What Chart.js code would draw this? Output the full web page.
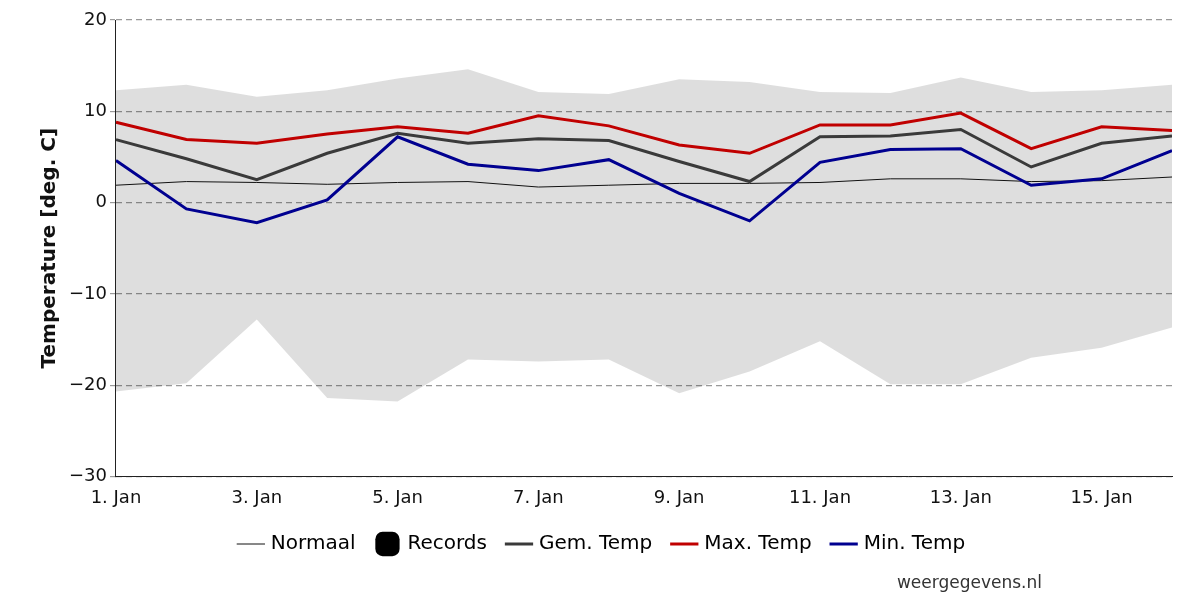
<!DOCTYPE html>
<html lang="nl">
<head>
  <meta charset="UTF-8" />
  <title>Temperatuur januari</title>
  <script src="https://cdn.jsdelivr.net/npm/chart.js"></script>
  <style>
    body { margin: 0; background: #fff; font-family: 'DejaVu Sans', sans-serif; }
    .wrap { position: relative; width: 1200px; height: 600px; }
    .credit { position: absolute; right: 158px; bottom: 8px; font-size: 17px; color: #333; }
  </style>
</head>
<body>
  <div class="wrap">
    <canvas id="chart" width="1200" height="600"></canvas>
    <div class="credit">weergegevens.nl</div>
  </div>
  <script>
    const days = [1, 2, 3, 4, 5, 6, 7, 8, 9, 10, 11, 12, 13, 14, 15, 16];
    const dayTicks = [1, 3, 5, 7, 9, 11, 13, 15];
    const recordHigh = [12.3, 12.9, 11.6, 12.3, 13.6, 14.6, 12.1, 11.9, 13.5, 13.2, 12.1, 12.0, 13.7, 12.1, 12.3, 12.9];
    const recordLow = [-20.7, -19.8, -12.8, -21.4, -21.8, -17.2, -17.4, -17.2, -20.9, -18.5, -15.2, -19.9, -19.9, -17.0, -15.9, -13.7];
    const normaal = [1.9, 2.3, 2.2, 2.0, 2.2, 2.3, 1.7, 1.9, 2.1, 2.1, 2.2, 2.6, 2.6, 2.3, 2.4, 2.8];
    const gemTemp = [6.9, 4.8, 2.5, 5.4, 7.6, 6.5, 7.0, 6.8, 4.5, 2.3, 7.2, 7.3, 8.0, 3.9, 6.5, 7.3];
    const maxTemp = [8.8, 6.9, 6.5, 7.5, 8.3, 7.6, 9.5, 8.4, 6.3, 5.4, 8.5, 8.5, 9.8, 5.9, 8.3, 7.9];
    const minTemp = [4.6, -0.7, -2.2, 0.3, 7.2, 4.2, 3.5, 4.7, 1.0, -2.0, 4.4, 5.8, 5.9, 1.9, 2.6, 5.7];

    const pts = arr => arr.map((v, i) => ({ x: days[i], y: v }));
    const line = (label, arr, color, width, order) => ({
      label, data: pts(arr), borderColor: color, backgroundColor: color,
      borderWidth: width, pointRadius: 0, tension: 0, fill: false, order
    });

    Chart.defaults.font.family = "'DejaVu Sans', sans-serif";

    new Chart(document.getElementById('chart'), {
      type: 'line',
      data: {
        datasets: [
          line('Normaal', normaal, '#111', 1, 4),
          { label: 'Records', data: pts(recordHigh), borderWidth: 0, pointRadius: 0,
            backgroundColor: 'rgba(0,0,0,0.13)', borderColor: '#000', fill: 2, order: 5 },
          { label: 'recLow', data: pts(recordLow), borderWidth: 0, pointRadius: 0,
            borderColor: 'transparent', fill: false, order: 6 },
          line('Gem. Temp', gemTemp, '#3a3a3a', 3, 3),
          line('Max. Temp', maxTemp, '#c00000', 3, 2),
          line('Min. Temp', minTemp, '#000090', 3, 1)
        ]
      },
      options: {
        responsive: false,
        animation: false,
        layout: { padding: { left: 34, right: 28, top: 20, bottom: 36 } },
        plugins: {
          tooltip: { enabled: false },
          legend: {
            position: 'bottom',
            labels: {
              font: { size: 20 }, color: '#111', padding: 22,
              generateLabels: chart => chart.data.datasets
                .filter(d => d.label !== 'recLow')
                .map(d => d.label === 'Records'
                  ? { text: d.label, fillStyle: '#000', strokeStyle: '#000', lineWidth: 0, pointStyle: 'rectRounded' }
                  : { text: d.label, fillStyle: d.borderColor, strokeStyle: d.borderColor, lineWidth: d.borderWidth, pointStyle: 'line' }),
              usePointStyle: true, boxWidth: 34, boxHeight: 20
            }
          }
        },
        scales: {
          x: {
            type: 'linear', min: 1, max: 16,
            grid: { display: false },
            border: { color: '#222' },
            afterBuildTicks: axis => { axis.ticks = dayTicks.map(v => ({ value: v })); },
            ticks: { font: { size: 18 }, color: '#111', maxRotation: 0,
              callback: v => v + '. Jan' }
          },
          y: {
            min: -30, max: 20,
            title: { display: true, text: 'Temperature [deg. C]', font: { size: 20, weight: 'bold' }, color: '#111' },
            grid: { color: '#999', lineWidth: 1.2, tickLength: 6 },
            border: { dash: [6, 4], color: '#222' },
            ticks: { stepSize: 10, font: { size: 18 }, color: '#111',
              callback: v => v < 0 ? '\u2212' + Math.abs(v) : v }
          }
        }
      }
    });
  </script>
</body>
</html>
